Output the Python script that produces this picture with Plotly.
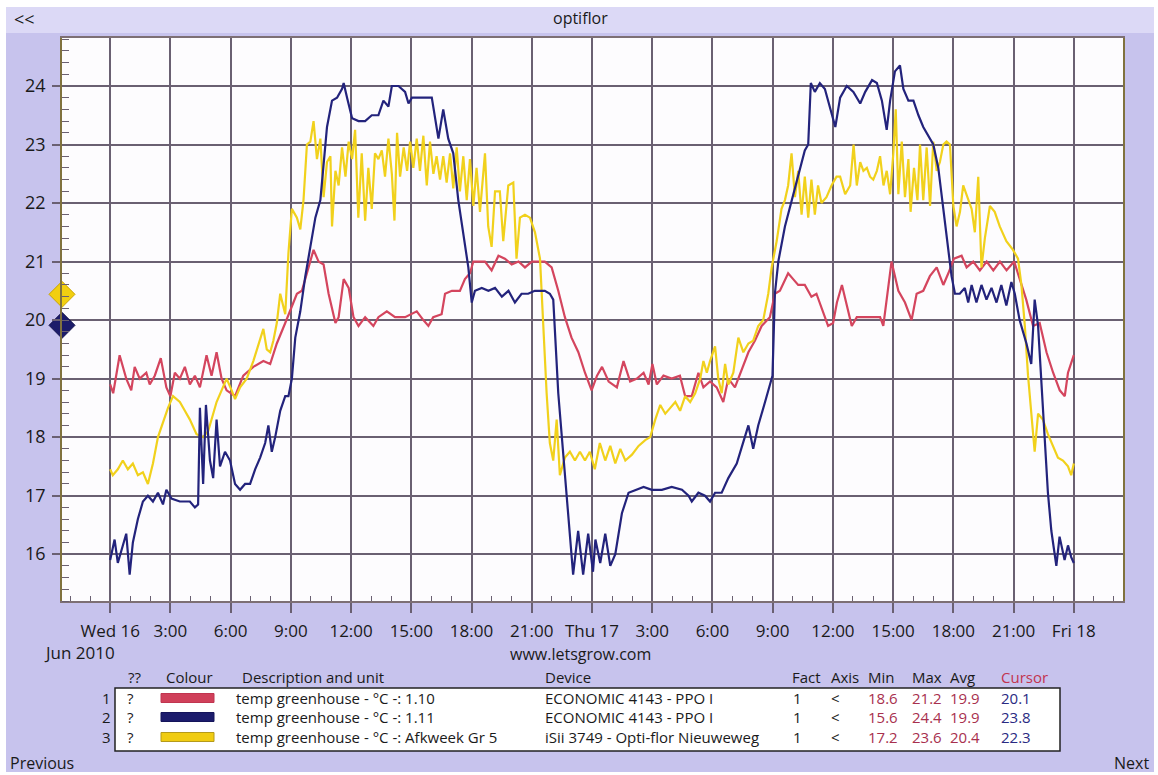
import pandas as pd
import plotly.graph_objects as go

# ---------------- data (hours after Wed 16 Jun 2010 00:00, temperature in C) ----------------
red_data = [
    (0.00, 18.9), (0.15, 18.75), (0.47, 19.4), (0.80, 19.0), (1.05, 18.8), (1.22, 19.2), (1.47, 19.0),
    (1.80, 19.1), (1.97, 18.9), (2.22, 19.05), (2.52, 19.35), (2.80, 18.85), (3.00, 18.7), (3.22, 19.1),
    (3.47, 19.0), (3.72, 19.2), (3.97, 18.9), (4.22, 19.05), (4.47, 18.85), (4.80, 19.4), (5.05, 19.05),
    (5.30, 19.45), (5.55, 19.0), (5.80, 18.8), (6.22, 18.7), (6.63, 19.05), (7.13, 19.2), (7.63, 19.3),
    (7.97, 19.25), (8.30, 19.6), (8.72, 19.95), (9.05, 20.25), (9.30, 20.45), (9.55, 20.5), (9.80, 20.8),
    (10.13, 21.2), (10.38, 21.0), (10.63, 20.95), (10.88, 20.45), (11.22, 19.95), (11.38, 20.05),
    (11.63, 20.7), (11.88, 20.55), (12.12, 20.05), (12.37, 19.9), (12.70, 20.05), (13.11, 19.9),
    (13.36, 20.05), (13.78, 20.15), (14.19, 20.05), (14.69, 20.05), (15.27, 20.15), (15.60, 20.0),
    (15.85, 19.9), (16.09, 20.05), (16.51, 20.1), (16.68, 20.45), (17.02, 20.5), (17.42, 20.5),
    (17.67, 20.7), (17.92, 20.8), (18.09, 21.0), (18.67, 21.0), (19.00, 20.85), (19.34, 21.1),
    (19.66, 21.05), (20.00, 20.95), (20.34, 21.0), (20.66, 20.9), (21.00, 21.0), (21.65, 21.0),
    (21.99, 20.9), (22.32, 20.5), (22.65, 20.05), (22.98, 19.7), (23.32, 19.45), (23.65, 19.1),
    (23.98, 18.8), (24.25, 19.05), (24.50, 19.2), (24.83, 18.95), (25.24, 18.85), (25.57, 19.3),
    (25.90, 18.95), (26.24, 19.0), (26.57, 19.1), (26.82, 18.9), (27.01, 19.25), (27.23, 18.9),
    (27.56, 19.05), (27.97, 19.0), (28.38, 19.05), (28.64, 18.7), (28.97, 18.7), (29.30, 19.1),
    (29.55, 18.85), (29.88, 18.95), (30.21, 18.85), (30.54, 18.6), (30.79, 19.0), (31.12, 18.85),
    (31.45, 19.15), (31.79, 19.45), (32.12, 19.65), (32.45, 19.9), (32.86, 20.05), (33.11, 20.45),
    (33.36, 20.5), (33.77, 20.8), (34.02, 20.7), (34.27, 20.6), (34.60, 20.6), (34.93, 20.4),
    (35.18, 20.45), (35.51, 20.15), (35.76, 19.9), (36.01, 19.95), (36.20, 20.3), (36.45, 20.6),
    (36.70, 20.25), (36.94, 19.9), (37.19, 20.05), (37.52, 20.05), (38.01, 20.05), (38.35, 20.05),
    (38.51, 19.9), (38.92, 21.0), (39.26, 20.5), (39.59, 20.3), (39.92, 20.0), (40.17, 20.45),
    (40.50, 20.5), (40.83, 20.75), (41.17, 20.9), (41.50, 20.6), (41.75, 20.8), (42.03, 21.05),
    (42.41, 21.1), (42.66, 20.9), (42.99, 21.0), (43.32, 20.85), (43.66, 21.0), (43.99, 20.85),
    (44.32, 21.0), (44.65, 20.85), (45.03, 21.0), (45.30, 20.7), (45.63, 20.35), (45.97, 19.9),
    (46.30, 19.95), (46.64, 19.45), (46.97, 19.1), (47.30, 18.8), (47.55, 18.7), (47.71, 19.1),
    (48.00, 19.4),
]

blue_data = [
    (0.00, 15.9), (0.22, 16.25), (0.38, 15.85), (0.55, 16.05), (0.80, 16.35), (0.97, 15.65), (1.13, 16.2),
    (1.38, 16.6), (1.63, 16.9), (1.88, 17.0), (2.13, 16.9), (2.38, 17.05), (2.63, 16.85), (2.80, 17.1),
    (3.05, 16.95), (3.47, 16.9), (3.97, 16.9), (4.22, 16.8), (4.38, 16.85), (4.47, 18.5), (4.63, 17.2),
    (4.77, 18.55), (4.97, 17.6), (5.13, 17.3), (5.30, 18.3), (5.47, 17.5), (5.72, 17.75), (5.97, 17.6),
    (6.22, 17.2), (6.47, 17.1), (6.72, 17.2), (6.97, 17.2), (7.22, 17.45), (7.47, 17.65), (7.72, 17.9),
    (7.88, 18.2), (8.05, 17.75), (8.22, 18.0), (8.47, 18.45), (8.72, 18.7), (8.88, 18.7), (9.05, 19.0),
    (9.22, 19.7), (9.47, 20.15), (9.72, 20.75), (9.97, 21.25), (10.22, 21.75), (10.47, 22.05),
    (10.63, 22.6), (10.80, 23.3), (11.05, 23.75), (11.30, 23.8), (11.55, 23.95), (11.63, 24.05),
    (11.80, 23.8), (12.05, 23.45), (12.37, 23.4), (12.70, 23.4), (13.03, 23.5), (13.36, 23.5),
    (13.61, 23.75), (13.86, 23.65), (14.03, 24.0), (14.36, 24.0), (14.69, 23.9), (14.86, 23.7),
    (15.03, 23.8), (15.52, 23.8), (16.02, 23.8), (16.35, 23.1), (16.59, 23.6), (16.84, 23.1),
    (17.09, 22.85), (17.34, 22.05), (17.59, 21.45), (17.84, 20.9), (18.01, 20.3), (18.17, 20.5),
    (18.51, 20.55), (18.84, 20.5), (19.17, 20.55), (19.51, 20.4), (19.84, 20.5), (20.16, 20.3),
    (20.49, 20.45), (20.82, 20.45), (21.15, 20.5), (21.65, 20.5), (21.90, 20.45), (22.07, 20.35),
    (22.32, 18.75), (22.65, 17.4), (22.81, 16.65), (23.06, 15.65), (23.31, 16.4), (23.56, 15.65),
    (23.81, 16.35), (24.05, 15.7), (24.17, 16.25), (24.41, 15.85), (24.66, 16.35), (24.91, 15.8),
    (25.16, 16.0), (25.49, 16.7), (25.82, 17.05), (26.16, 17.1), (26.57, 17.15), (26.98, 17.1),
    (27.48, 17.1), (27.97, 17.15), (28.48, 17.1), (28.81, 17.0), (28.97, 16.9), (29.30, 17.05),
    (29.63, 17.0), (29.88, 16.9), (30.13, 17.05), (30.46, 17.05), (30.79, 17.3), (31.21, 17.55),
    (31.54, 17.9), (31.79, 18.2), (32.03, 17.8), (32.28, 18.2), (32.62, 18.6), (32.86, 18.9),
    (32.99, 19.05), (33.11, 20.45), (33.28, 21.0), (33.61, 21.6), (33.94, 22.05), (34.27, 22.5),
    (34.60, 22.9), (34.77, 23.0), (34.90, 24.05), (35.10, 23.9), (35.35, 24.05), (35.60, 23.95),
    (35.84, 23.65), (36.12, 23.3), (36.36, 23.8), (36.69, 24.0), (37.02, 23.9), (37.36, 23.7),
    (37.61, 23.9), (37.95, 24.1), (38.19, 24.05), (38.44, 23.75), (38.68, 23.25), (38.85, 23.75),
    (39.09, 24.25), (39.34, 24.35), (39.51, 23.95), (39.76, 23.75), (40.01, 23.75), (40.26, 23.5),
    (40.50, 23.3), (40.75, 23.15), (41.00, 23.0), (41.25, 22.6), (41.50, 21.9), (41.75, 21.25),
    (41.91, 20.75), (42.08, 20.45), (42.32, 20.45), (42.57, 20.55), (42.74, 20.3), (42.91, 20.6),
    (43.15, 20.3), (43.40, 20.6), (43.65, 20.35), (43.90, 20.55), (44.15, 20.3), (44.39, 20.6),
    (44.64, 20.25), (44.89, 20.65), (45.06, 20.45), (45.30, 20.0), (45.64, 19.6), (45.88, 19.25),
    (46.05, 20.35), (46.22, 19.9), (46.46, 18.45), (46.71, 17.05), (46.88, 16.4), (47.13, 15.8),
    (47.29, 16.3), (47.54, 15.9), (47.71, 16.15), (47.87, 15.95), (48.00, 15.85),
]

yellow_data = [
    (0.00, 17.45), (0.13, 17.35), (0.38, 17.45), (0.63, 17.6), (0.88, 17.45), (1.13, 17.55), (1.38, 17.35),
    (1.63, 17.4), (1.88, 17.2), (2.13, 17.55), (2.38, 18.0), (2.63, 18.25), (2.88, 18.5), (3.13, 18.7),
    (3.47, 18.6), (3.72, 18.45), (3.97, 18.3), (4.30, 18.05), (4.63, 18.0), (4.88, 18.1), (5.05, 18.3),
    (5.30, 18.6), (5.55, 18.8), (5.80, 19.0), (6.05, 18.8), (6.22, 18.65), (6.47, 18.85), (6.80, 19.0),
    (7.13, 19.3), (7.47, 19.7), (7.63, 19.85), (7.80, 19.5), (7.97, 19.45), (8.13, 19.65), (8.30, 19.95),
    (8.47, 20.45), (8.72, 20.1), (8.88, 21.15), (9.05, 21.9), (9.30, 21.75), (9.47, 21.55), (9.63, 22.05),
    (9.80, 23.0), (9.97, 23.05), (10.13, 23.4), (10.30, 22.75), (10.47, 23.1), (10.63, 22.1),
    (10.80, 22.7), (10.97, 22.8), (11.05, 21.6), (11.22, 22.55), (11.38, 22.3), (11.55, 22.95),
    (11.72, 22.45), (11.88, 23.05), (12.05, 22.75), (12.20, 23.25), (12.36, 21.75), (12.53, 22.85),
    (12.70, 21.7), (12.86, 22.6), (13.03, 21.9), (13.19, 22.85), (13.36, 22.75), (13.53, 22.9),
    (13.69, 22.45), (13.86, 23.1), (14.03, 22.5), (14.16, 21.7), (14.29, 23.2), (14.44, 22.45),
    (14.62, 22.95), (14.79, 22.55), (14.94, 23.05), (15.10, 22.6), (15.27, 23.1), (15.43, 22.55),
    (15.60, 23.15), (15.77, 22.3), (15.93, 23.05), (16.10, 22.5), (16.26, 22.8), (16.43, 22.4),
    (16.59, 22.8), (16.76, 22.35), (16.93, 22.85), (17.09, 22.25), (17.26, 22.95), (17.42, 22.2),
    (17.59, 22.8), (17.76, 22.05), (17.92, 22.75), (18.09, 21.95), (18.25, 22.6), (18.42, 21.85),
    (18.67, 22.85), (18.83, 21.6), (19.00, 21.25), (19.17, 22.2), (19.41, 22.2), (19.58, 21.35),
    (19.83, 22.3), (20.08, 22.35), (20.24, 21.05), (20.41, 21.75), (20.66, 21.8), (20.91, 21.75),
    (21.16, 21.5), (21.41, 21.05), (21.57, 19.9), (21.74, 18.75), (21.90, 17.9), (22.07, 17.6),
    (22.24, 18.3), (22.40, 17.35), (22.65, 17.65), (22.90, 17.75), (23.15, 17.6), (23.40, 17.75),
    (23.65, 17.6), (23.89, 17.75), (24.14, 17.45), (24.39, 17.9), (24.66, 17.6), (24.91, 17.85),
    (25.16, 17.55), (25.41, 17.8), (25.66, 17.6), (25.99, 17.7), (26.32, 17.85), (26.65, 17.95),
    (26.90, 18.0), (27.15, 18.3), (27.40, 18.55), (27.65, 18.4), (27.90, 18.5), (28.15, 18.6),
    (28.39, 18.45), (28.64, 18.7), (28.89, 18.6), (29.14, 18.75), (29.39, 19.0), (29.55, 19.3),
    (29.72, 19.1), (29.88, 19.3), (30.13, 19.55), (30.29, 19.0), (30.46, 18.75), (30.63, 19.25),
    (30.79, 18.9), (31.04, 19.1), (31.29, 19.7), (31.54, 19.45), (31.79, 19.6), (32.03, 19.65),
    (32.28, 19.9), (32.53, 20.0), (32.78, 20.45), (32.95, 20.9), (33.20, 21.35), (33.44, 21.9),
    (33.61, 22.05), (33.77, 22.3), (33.94, 22.85), (34.11, 22.1), (34.27, 22.55), (34.44, 21.8),
    (34.60, 22.45), (34.77, 21.75), (34.93, 22.4), (35.10, 21.8), (35.26, 22.3), (35.43, 22.0),
    (35.68, 22.1), (35.93, 22.3), (36.18, 22.45), (36.36, 22.45), (36.61, 22.15), (36.86, 22.3),
    (37.03, 23.0), (37.19, 22.3), (37.36, 22.7), (37.52, 22.55), (37.69, 22.6), (37.85, 22.45),
    (38.01, 22.4), (38.19, 22.55), (38.35, 22.8), (38.52, 22.3), (38.68, 22.55), (38.85, 22.15),
    (39.01, 22.85), (39.13, 23.6), (39.26, 22.15), (39.43, 23.05), (39.59, 22.1), (39.76, 22.75),
    (39.87, 21.85), (40.04, 22.6), (40.21, 22.05), (40.34, 23.0), (40.50, 22.05), (40.67, 22.95),
    (40.84, 21.95), (41.00, 23.05), (41.17, 22.55), (41.33, 22.7), (41.50, 23.0), (41.66, 23.05),
    (41.83, 23.0), (42.00, 21.95), (42.16, 21.6), (42.33, 21.85), (42.49, 22.3), (42.74, 22.05),
    (42.91, 21.9), (43.07, 21.5), (43.24, 22.45), (43.40, 20.9), (43.57, 21.4), (43.82, 21.95),
    (44.06, 21.85), (44.31, 21.6), (44.64, 21.35), (44.97, 21.2), (45.22, 21.05), (45.39, 20.6),
    (45.56, 19.9), (45.72, 19.05), (45.89, 18.3), (46.05, 17.75), (46.22, 18.4), (46.46, 18.3),
    (46.71, 18.05), (46.96, 17.85), (47.21, 17.65), (47.46, 17.6), (47.71, 17.5), (47.87, 17.35),
    (48.00, 17.55),
]

# cursor markers on the left axis (yellow, navy)
cursor_marker_values = [20.44, 19.91]

# x tick labels every 3 hours
tick_hours = list(range(0, 49, 3))
tick_labels = ["Wed 16", "3:00", "6:00", "9:00", "12:00", "15:00", "18:00", "21:00",
               "Thu 17", "3:00", "6:00", "9:00", "12:00", "15:00", "18:00", "21:00", "Fri 18"]
y_ticks = [16, 17, 18, 19, 20, 21, 22, 23, 24]

# legend table contents
table_desc = ["temp greenhouse - °C -: 1.10", "temp greenhouse - °C -: 1.11",
              "temp greenhouse - °C -: Afkweek Gr 5"]
table_device = ["ECONOMIC 4143 - PPO I", "ECONOMIC 4143 - PPO I", "iSii 3749 - Opti-flor Nieuweweg"]
table_fact = ["1", "1", "1"]
table_axis = ["<", "<", "<"]
table_min = ["18.6", "15.6", "17.2"]
table_max = ["21.2", "24.4", "23.6"]
table_avg = ["19.9", "19.9", "20.4"]
table_cursor = ["20.1", "23.8", "22.3"]

# ---------------- styling ----------------
RED = "#d4455e"
NAVY = "#23237c"
YELLOW = "#f1d11c"
GRID = "#6a6072"
FONT = "Open Sans"
base = pd.Timestamp("2010-06-16 00:00")


def to_time(hours):
    return [base + pd.Timedelta(hours=h) for h in hours]


W, H = 1158, 775
L, R, T, B = 62, 1123, 38, 601


def px(x):
    return (x - L) / (R - L)


def py(y):
    return (B - y) / (B - T)


fig = go.Figure()
for data, col in [(red_data, RED), (yellow_data, YELLOW), (blue_data, NAVY)]:
    hrs = [d[0] for d in data]
    vals = [d[1] for d in data]
    fig.add_trace(go.Scatter(x=to_time(hrs), y=vals, mode="lines",
                             line=dict(color=col, width=2.2), hoverinfo="skip"))

x_left = base - pd.Timedelta(hours=2.4)
x_right = base + pd.Timedelta(hours=50.45)

fig.add_trace(go.Scatter(
    x=[x_left, x_left], y=cursor_marker_values, mode="markers", cliponaxis=False,
    marker=dict(symbol="diamond", size=20, color=["#f2cf10", "#1c1c6a"],
                line=dict(color=["#caa400", "#10104a"], width=1)),
    hoverinfo="skip"))

shapes = [
    dict(type="rect", xref="paper", yref="paper", x0=px(6), x1=px(1154), y0=py(772), y1=py(7),
         fillcolor="#c7c3ed", line_width=0, layer="below"),
    dict(type="rect", xref="paper", yref="paper", x0=px(6), x1=px(1154), y0=py(33), y1=py(7),
         fillcolor="#dcd9f6", line_width=0, layer="below"),
    dict(type="rect", xref="paper", yref="paper", x0=0, x1=1, y0=0, y1=1,
         fillcolor="#fdfcfe", line_width=0, layer="below"),
    dict(type="rect", xref="paper", yref="paper", x0=px(115), x1=px(1060), y0=py(751), y1=py(688),
         fillcolor="white", line=dict(color="#222222", width=1.5)),
]

row_y = [698, 717, 737]
swatch_fill = ["#d0405a", "#1c1c6c", "#f0cc12"]
swatch_line = ["#c03550", "#14145a", "#b59a1a"]
for yy, fc, lc in zip(row_y, swatch_fill, swatch_line):
    shapes.append(dict(type="rect", xref="paper", yref="paper", x0=px(161), x1=px(214),
                       y0=py(yy + 4.5), y1=py(yy - 4.5), fillcolor=fc, line=dict(color=lc, width=1)))

ann = []


def text(x, y, s, size=16, color="#1a1a1a", anchor="left"):
    ann.append(dict(x=px(x), y=py(y), xref="paper", yref="paper", text=s, showarrow=False,
                    xanchor=anchor, yanchor="middle", font=dict(family=FONT, size=size, color=color)))


text(12, 19, "&lt;&lt;", 18)
text(580, 18, "optiflor", 16, anchor="center")
text(42, 652, "Jun 2010", 17)
text(580, 654, "www.letsgrow.com", 16, anchor="center")
text(8, 763, "Previous", 16)
text(1151, 763, "Next", 16, anchor="right")

hy = 677
text(126, hy, "??", 15)
text(164, hy, "Colour", 15)
text(240, hy, "Description and unit", 15)
text(543, hy, "Device", 15)
text(790, hy, "Fact", 15)
text(829, hy, "Axis", 15)
text(866, hy, "Min", 15)
text(910, hy, "Max", 15)
text(948, hy, "Avg", 15)
text(999, hy, "Cursor", 15, color="#c2344f")

for i, yy in enumerate(row_y):
    text(113, yy, str(i + 1), 15, anchor="right")
    text(125, yy, "?", 15)
    text(234, yy, table_desc[i], 15)
    text(543, yy, table_device[i], 15)
    text(791, yy, table_fact[i], 15)
    text(829, yy, table_axis[i], 15)
    text(866, yy, table_min[i], 15, color="#a8304e")
    text(910, yy, table_max[i], 15, color="#a8304e")
    text(948, yy, table_avg[i], 15, color="#a8304e")
    text(999, yy, table_cursor[i], 15, color="#2a2a82")

fig.update_layout(
    width=W, height=H, autosize=False,
    margin=dict(l=L, r=W - R, t=T, b=H - B, pad=0),
    paper_bgcolor="white", plot_bgcolor="rgba(0,0,0,0)",
    showlegend=False, hovermode=False,
    shapes=shapes, annotations=ann,
    font=dict(family=FONT, color="#1a1a1a"),
)

fig.update_xaxes(
    type="date", range=[x_left, x_right],
    tickmode="array", tickvals=to_time(tick_hours), ticktext=tick_labels,
    tickfont=dict(family=FONT, size=17, color="#1a1a1a"),
    ticks="outside", ticklen=10, tickcolor=GRID, tickwidth=1.5, ticklabelstandoff=4,
    showgrid=True, gridcolor=GRID, gridwidth=1.7,
    showline=True, linecolor="#7d6f74", linewidth=1.5, mirror=True,
    zeroline=False,
    minor=dict(tick0=base, dtick=3600000, ticks="inside", ticklen=5, tickcolor=GRID,
               tickwidth=1, showgrid=False),
)
fig.update_yaxes(
    range=[15.2, 24.82], tickmode="array", tickvals=y_ticks,
    ticktext=[str(v) for v in y_ticks],
    tickfont=dict(family=FONT, size=18, color="#1a1a1a"),
    ticks="outside", ticklen=8, tickcolor=GRID, tickwidth=1.5, ticklabelstandoff=3,
    showgrid=True, gridcolor=GRID, gridwidth=1.7,
    showline=True, linecolor="#80723e", linewidth=1.5, mirror=True,
    zeroline=False,
    minor=dict(tick0=16, dtick=0.2, ticks="inside", ticklen=7, tickcolor=GRID,
               tickwidth=1, showgrid=False),
)

# remove the default 8px page margin so the figure sits at the window's top-left corner
fig.write_html("out.html", config={"displayModeBar": False},
               post_script="document.body.style.margin='0px';")
